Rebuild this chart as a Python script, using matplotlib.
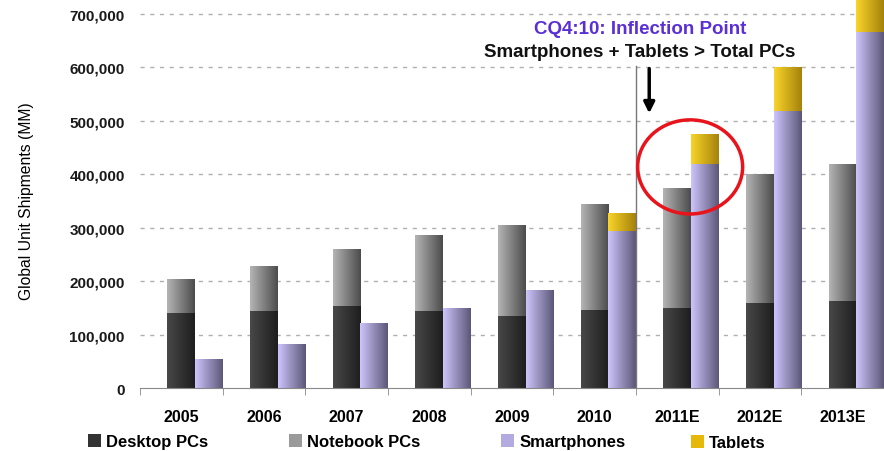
import numpy as np
import matplotlib
matplotlib.use('Agg')
import matplotlib.pyplot as plt
import matplotlib.colors as mcolors
from matplotlib.patches import Ellipse, Patch
from matplotlib.ticker import StrMethodFormatter, MultipleLocator

plt.rcParams['font.family'] = ['Liberation Sans', 'DejaVu Sans']

years = ['2005', '2006', '2007', '2008', '2009', '2010', '2011E', '2012E', '2013E']
desktop = [141000, 145000, 153000, 145000, 135000, 147000, 151000, 159000, 163000]
notebook = [63000, 83000, 108000, 142000, 170000, 198000, 223000, 242000, 256000]
smartphones = [54000, 82000, 123000, 150000, 184000, 295000, 420000, 518000, 667000]
tablets = [0, 0, 0, 0, 0, 33000, 56000, 82000, 110000]

series_names = ['Desktop PCs', 'Notebook PCs', 'Smartphones', 'Tablets']
# left -> right shading of each bar
shades = {
    'Desktop PCs': ('#484848', '#1e1e1e'),
    'Notebook PCs': ('#b4b4b4', '#4c4c4c'),
    'Smartphones': ('#cdc5fb', '#5c5778'),
    'Tablets': ('#f9d42a', '#a5820c'),
}
legend_colors = {'Desktop PCs': '#333333', 'Notebook PCs': '#9a9a9a',
                 'Smartphones': '#b3abe0', 'Tablets': '#e6b80a'}


def shade_bars(ax, bars, name):
    c0 = np.array(mcolors.to_rgb(shades[name][0]))
    c1 = np.array(mcolors.to_rgb(shades[name][1]))
    t = np.linspace(0, 1, 64)[:, None]
    grad = (c0 * (1 - t) + c1 * t)[None, :, :]
    for b in bars:
        if b.get_height() <= 0:
            continue
        x0, y0 = b.get_x(), b.get_y()
        im = ax.imshow(grad, extent=[x0, x0 + b.get_width(), y0, y0 + b.get_height()],
                       aspect='auto', interpolation='bicubic', zorder=3)
        im.set_clip_path(b)


fig = plt.figure(figsize=(8.84, 4.52), dpi=100)
ax = fig.add_axes([140 / 884, 1 - 389.3 / 452, 744 / 884, 389.3 / 452])

x = np.arange(len(years))
w = 0.335

pc1 = ax.bar(x - 0.17 + w / 2, desktop, w, color=legend_colors['Desktop PCs'], zorder=2)
pc2 = ax.bar(x - 0.17 + w / 2, notebook, w, bottom=desktop, color=legend_colors['Notebook PCs'], zorder=2)
sp = ax.bar(x + 0.165 + w / 2, smartphones, w, color=legend_colors['Smartphones'], zorder=2)
tb = ax.bar(x + 0.165 + w / 2, tablets, w, bottom=smartphones, color=legend_colors['Tablets'], zorder=2)
for bars, name in zip([pc1, pc2, sp, tb], series_names):
    shade_bars(ax, bars, name)

ax.set_xlim(-0.5, len(years) - 0.5)
ax.set_ylim(0, 728000)

# grid
ax.yaxis.set_major_locator(MultipleLocator(100000))
ax.yaxis.set_major_formatter(StrMethodFormatter('{x:,.0f}'))
for v in range(100000, 800000, 100000):
    ax.axhline(v, color='#b0b0b0', lw=1, ls=(0, (3, 4)), zorder=1)

for s in ['top', 'right', 'left']:
    ax.spines[s].set_visible(False)
ax.spines['bottom'].set_color('#888888')
ax.spines['bottom'].set_zorder(5)

ax.set_xticks(x)
ax.set_xticklabels(years, fontsize=11.5, fontweight='bold')
ax.set_xticks(np.arange(len(years) + 1) - 0.5, minor=True)
ax.tick_params(axis='x', which='major', length=0, pad=15)
ax.tick_params(axis='x', which='minor', length=5, color='#888888', direction='out')
ax.tick_params(axis='y', length=0, pad=11, labelsize=11)
for lab in ax.get_yticklabels():
    lab.set_fontweight('bold')
    lab.set_color('#1a1a1a')

fig.text(27 / 884, 0.555, 'Global Unit Shipments (MM)', rotation=90,
         ha='center', va='center', fontsize=11.3)

# inflection annotation
ax.plot([5.5, 5.5], [0, 602000], color='#777777', lw=1, zorder=4)
ax.annotate('', xy=(5.66, 509000), xytext=(5.66, 603000),
            arrowprops=dict(arrowstyle='-|>', color='black', lw=2.5, mutation_scale=16),
            zorder=6)
ax.add_patch(Ellipse((6.155, 414000), 1.27, 176000, fill=False,
                     edgecolor='#e8141c', lw=2.5, zorder=6))
ax.text(5.55, 672000, 'CQ4:10: Inflection Point', ha='center', va='center',
        fontsize=13.5, fontweight='bold', color='#5b2fd6', zorder=7)
ax.text(5.55, 630000, 'Smartphones + Tablets > Total PCs', ha='center', va='center',
        fontsize=13.5, fontweight='bold', color='#111111', zorder=7)

# legend entries spread along the bottom
legend_x = [88, 289, 501, 691]
legend_y = [435, 435, 435, 436]
for name, lx, ly in zip(series_names, legend_x, legend_y):
    h = Patch(facecolor=legend_colors[name], edgecolor='none')
    fig.legend([h], [name], loc='upper left', bbox_to_anchor=(lx / 884, 1 - ly / 452),
               frameon=False, handlelength=0.8, handleheight=0.8, handletextpad=0.3,
               borderpad=0, borderaxespad=0,
               prop={'size': 12, 'weight': 'bold'})

fig.savefig('out.png', dpi=100)
